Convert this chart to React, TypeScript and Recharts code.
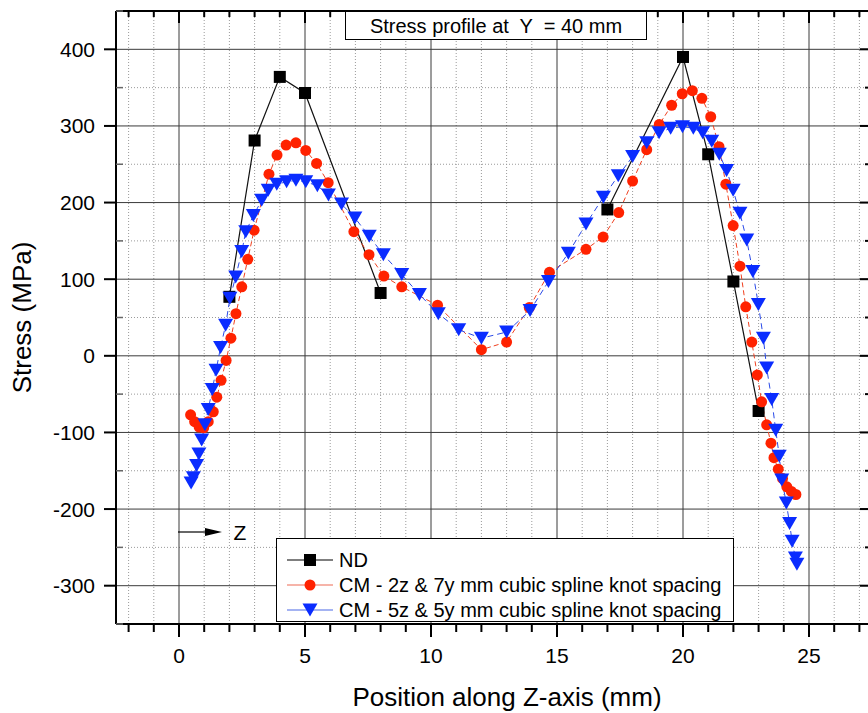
import { ComposedChart, Line, XAxis, YAxis, CartesianGrid, Legend, Label } from 'recharts';

// ND measurements (gap between 8 and 17 mm)
const ndZ = [2, 3, 4, 5, 8, 12.5, 17, 20, 21, 22, 23];
const ndStress = [77, 281, 364, 343, 82, null, 191, 390, 263, 97, -72];

// CM - 2z & 7y knot spacing
const cm2Z = [0.46, 0.62, 0.8, 0.98, 1.16, 1.36, 1.5, 1.67, 1.87, 2.06, 2.26, 2.49, 2.73, 2.98, 3.57, 3.89, 4.25, 4.64, 5.03, 5.46, 5.92, 6.94, 7.54, 8.13, 8.84, 10.26, 12.0, 13.0, 13.9, 14.7, 16.15, 16.83, 17.45, 18.0, 18.56, 19.06, 19.55, 19.97, 20.37, 20.75, 21.1, 21.43, 21.7, 21.99, 22.26, 22.49, 22.73, 22.95, 23.12, 23.32, 23.49, 23.61, 23.78, 23.95, 24.12, 24.3, 24.48];
const cm2Stress = [-77, -86, -93, -94, -86, -73, -54, -32, -6, 23, 55, 90, 126, 164, 237, 262, 275, 278, 268, 251, 226, 162, 132, 104, 90, 66, 8, 18, 63, 109, 139, 155, 187, 228, 269, 302, 327, 342, 346, 336, 312, 273, 224, 170, 117, 64, 18, -25, -60, -90, -114, -133, -148, -160, -171, -177, -181];

// CM - 5z & 5y knot spacing
const cm5Z = [0.48, 0.57, 0.7, 0.79, 0.9, 1.03, 1.16, 1.32, 1.47, 1.65, 1.85, 2.02, 2.25, 2.49, 2.65, 2.95, 3.28, 3.54, 3.88, 4.27, 4.64, 5.03, 5.49, 5.93, 6.45, 6.98, 7.55, 8.11, 8.84, 9.54, 10.29, 11.1, 12.0, 13.0, 13.93, 14.66, 15.45, 16.15, 16.84, 17.43, 18.0, 18.56, 19.05, 19.51, 19.98, 20.41, 20.78, 21.14, 21.44, 21.73, 21.99, 22.26, 22.53, 22.77, 22.99, 23.19, 23.32, 23.52, 23.68, 23.82, 23.92, 24.1, 24.23, 24.33, 24.46, 24.52];
const cm5Stress = [-166, -159, -143, -128, -110, -90, -70, -44, -19, 11, 40, 75, 103, 136, 162, 183, 203, 216, 224, 227, 229, 227, 222, 210, 198, 180, 156, 132, 106, 80, 55, 34, 23, 31, 59, 97, 134, 172, 207, 235, 260, 278, 291, 297, 299, 297, 291, 280, 263, 242, 216, 186, 151, 110, 67, 23, -16, -57, -97, -131, -162, -192, -219, -242, -264, -272];

const seriesNames = ['ND', 'CM - 2z & 7y mm cubic spline knot spacing', 'CM - 5z & 5y mm cubic spline knot spacing'];

const xTicks = [-2, -1, 0, 1, 2, 3, 4, 5, 6, 7, 8, 9, 10, 11, 12, 13, 14, 15, 16, 17, 18, 19, 20, 21, 22, 23, 24, 25, 26, 27];
const xMajor = [0, 5, 10, 15, 20, 25];
const xMinor = [-2, -1, 1, 2, 3, 4, 6, 7, 8, 9, 11, 12, 13, 14, 16, 17, 18, 19, 21, 22, 23, 24, 26, 27];
const yTicks = [-350, -300, -250, -200, -150, -100, -50, 0, 50, 100, 150, 200, 250, 300, 350, 400, 450];
const yMajor = [-300, -200, -100, 0, 100, 200, 300, 400];
const yMinor = [-250, -150, -50, 50, 150, 250, 350];

const zip = (zs: number[], ss: (number | null)[]) => zs.map((z, i) => ({ z, s: ss[i] }));
const ndData = zip(ndZ, ndStress);
const cm2Data = zip(cm2Z, cm2Stress);
const cm5Data = zip(cm5Z, cm5Stress);

const FONT = '"Liberation Sans", Arial, sans-serif';
const RED = '#ff2200';
const BLUE = '#0a2cff';

const square = (cx: number, cy: number) => <rect x={cx - 6} y={cy - 6} width={12} height={12} fill="#000" />;
const circle = (cx: number, cy: number) => <circle cx={cx} cy={cy} r={5.5} fill={RED} />;
const triangle = (cx: number, cy: number) => (
    <polygon points={`${cx - 7.5},${cy - 6.5} ${cx + 7.5},${cy - 6.5} ${cx},${cy + 6.5}`} fill={BLUE} />
);

const makeDot = (shape: (cx: number, cy: number) => any, tag: string) => (p: any) => {
    if (p.cy == null || p.value == null) return <g key={`${tag}-${p.index}`} />;
    return <g key={`${tag}-${p.index}`}>{shape(p.cx, p.cy)}</g>;
};

const BottomTick = ({ x, y, payload }: any) => {
    const v = payload.value;
    const major = v % 5 === 0;
    return (
        <g>
            <line x1={x} x2={x} y1={y} y2={y + (major ? 13 : 8)} stroke="#000" strokeWidth={2} />
            {major && (
                <text x={x} y={y + 31} textAnchor="middle" dominantBaseline="central" fontSize={21} fontFamily={FONT} fill="#000">
                    {v}
                </text>
            )}
        </g>
    );
};

const TopTick = ({ x, y, payload }: any) => {
    const major = payload.value % 5 === 0;
    return <line x1={x} x2={x} y1={y} y2={y + (major ? 12 : 6)} stroke="#000" strokeWidth={2} />;
};

const LeftTick = ({ x, y, payload }: any) => {
    const v = payload.value;
    const major = v % 100 === 0;
    if (!major) return <line x1={x} x2={x + 7} y1={y} y2={y} stroke="#666" strokeWidth={1.5} />;
    return (
        <g>
            <line x1={x - 12} x2={x} y1={y} y2={y} stroke="#000" strokeWidth={2} />
            <text x={x - 21} y={y} textAnchor="end" dominantBaseline="central" fontSize={21} fontFamily={FONT} fill="#000">
                {v}
            </text>
        </g>
    );
};

const RightTick = ({ x, y, payload }: any) => {
    const major = payload.value % 100 === 0;
    return <line x1={x - (major ? 12 : 7)} x2={x} y1={y} y2={y} stroke="#000" strokeWidth={2} />;
};

const legendShapes = [square, circle, triangle];
const legendLineColors = ['#000', '#ee6a55', '#4a68e6'];

function LegendBox() {
    return (
        <div style={{ border: '1px solid #000', background: '#fff', width: 458, height: 84, boxSizing: 'border-box', paddingTop: 8.5, fontFamily: FONT }}>
            {seriesNames.map((name, i) => (
                <div key={name} style={{ height: 25, display: 'flex', alignItems: 'center' }}>
                    <svg width={46} height={20} style={{ marginLeft: 10, marginRight: 6 }}>
                        <line x1={0} x2={46} y1={10} y2={10} stroke={legendLineColors[i]} strokeWidth={1.2} />
                        {legendShapes[i](23, 10)}
                    </svg>
                    <span style={{ fontSize: 20, lineHeight: '25px', color: '#000', whiteSpace: 'nowrap' }}>{name}</span>
                </div>
            ))}
        </div>
    );
}

export default function App() {
    return (
        <div style={{ position: 'absolute', left: 0, top: 0, width: 868, height: 713, overflow: 'hidden', background: '#fff', fontFamily: FONT }}>
            <ComposedChart width={892} height={713} margin={{ top: 0, right: 0, bottom: 0, left: 0 }}>
                <CartesianGrid verticalValues={xMinor} horizontalValues={yMinor} stroke="#9a9a9a" strokeDasharray="1 2" />
                <CartesianGrid verticalValues={xMajor} horizontalValues={yMajor} stroke="#3a3a3a" strokeWidth={1} />

                <XAxis
                    type="number"
                    dataKey="z"
                    domain={[-2.5, 27.5]}
                    allowDataOverflow
                    ticks={xTicks}
                    interval={0}
                    height={89}
                    tickSize={0}
                    tickMargin={0}
                    tickLine={false}
                    tick={BottomTick}
                    axisLine={{ stroke: '#000', strokeWidth: 2 }}
                >
                    <Label
                        content={({ viewBox }: any) => (
                            <text x={viewBox.x + viewBox.width / 2 + 13} y={viewBox.y + 73} textAnchor="middle" dominantBaseline="central" fontSize={26} fontFamily={FONT} fill="#000">
                                Position along Z-axis (mm)
                            </text>
                        )}
                    />
                </XAxis>
                <XAxis
                    xAxisId="top"
                    orientation="top"
                    type="number"
                    dataKey="z"
                    domain={[-2.5, 27.5]}
                    allowDataOverflow
                    ticks={xTicks}
                    interval={0}
                    height={11}
                    tickSize={0}
                    tickMargin={0}
                    tickLine={false}
                    tick={TopTick}
                    axisLine={{ stroke: '#000', strokeWidth: 2 }}
                />
                <YAxis
                    type="number"
                    domain={[-350, 450]}
                    allowDataOverflow
                    ticks={yTicks}
                    interval={0}
                    width={116}
                    tickSize={0}
                    tickMargin={0}
                    tickLine={false}
                    tick={LeftTick}
                    axisLine={{ stroke: '#000', strokeWidth: 2 }}
                >
                    <Label
                        content={({ viewBox }: any) => {
                            const cx = viewBox.x + 22;
                            const cy = viewBox.y + viewBox.height / 2;
                            return (
                                <text x={cx} y={cy} transform={`rotate(-90 ${cx} ${cy})`} textAnchor="middle" dominantBaseline="central" fontSize={26} fontFamily={FONT} fill="#000">
                                    Stress (MPa)
                                </text>
                            );
                        }}
                    />
                </YAxis>
                <YAxis
                    yAxisId="right"
                    orientation="right"
                    type="number"
                    domain={[-350, 450]}
                    allowDataOverflow
                    ticks={yTicks}
                    interval={0}
                    width={20}
                    tickSize={0}
                    tickMargin={0}
                    tickLine={false}
                    tick={RightTick}
                    axisLine={{ stroke: '#000', strokeWidth: 2 }}
                />

                <Line
                    data={ndData}
                    dataKey="s"
                    name={seriesNames[0]}
                    type="linear"
                    stroke="#111"
                    strokeWidth={1.2}
                    dot={makeDot(square, 'nd')}
                    activeDot={false}
                    isAnimationActive={false}
                />
                <Line
                    data={cm2Data}
                    dataKey="s"
                    name={seriesNames[1]}
                    type="linear"
                    stroke="#f0401f"
                    strokeWidth={1}
                    strokeDasharray="5 3"
                    dot={makeDot(circle, 'cm2')}
                    activeDot={false}
                    isAnimationActive={false}
                />
                <Line
                    data={cm5Data}
                    dataKey="s"
                    name={seriesNames[2]}
                    type="linear"
                    stroke="#2a4ae8"
                    strokeWidth={1}
                    strokeDasharray="6 4"
                    dot={makeDot(triangle, 'cm5')}
                    activeDot={false}
                    isAnimationActive={false}
                />

                <Legend
                    layout="vertical"
                    align="center"
                    verticalAlign="middle"
                    wrapperStyle={{ left: 276, top: 538, width: 458, height: 84 }}
                    content={() => <LegendBox />}
                />
            </ComposedChart>

            <svg width={868} height={713} style={{ position: 'absolute', left: 0, top: 0, pointerEvents: 'none' }}>
                <rect x={345.5} y={11.5} width={301} height={28} fill="#fff" stroke="#000" strokeWidth={1} />
                <text x={496} y={26} textAnchor="middle" dominantBaseline="central" fontSize={20} fontFamily={FONT} fill="#000" style={{ whiteSpace: 'pre' }}>
                    {'Stress profile at  Y  = 40 mm'}
                </text>
                <line x1={178} x2={210} y1={532} y2={532} stroke="#000" strokeWidth={1.2} />
                <polygon points="205,528 222,532 205,536" fill="#000" />
                <text x={240} y={532} textAnchor="middle" dominantBaseline="central" fontSize={21} fontFamily={FONT} fill="#000">
                    Z
                </text>
            </svg>
        </div>
    );
}
